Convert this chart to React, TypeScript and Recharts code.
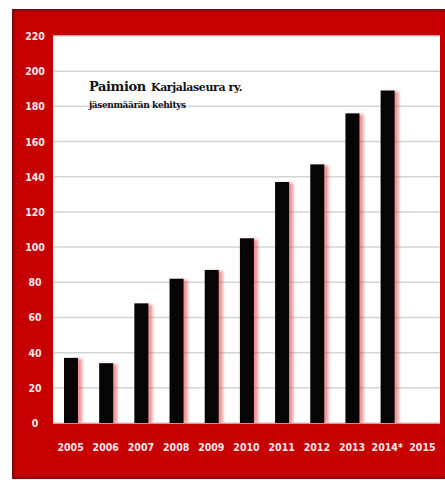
import React from 'react';
import { BarChart, Bar, XAxis, YAxis, CartesianGrid } from 'recharts';

const years = ['2005', '2006', '2007', '2008', '2009', '2010', '2011', '2012', '2013', '2014*', '2015'];
const members = [37, 34, 68, 82, 87, 105, 137, 147, 176, 189, null];
const yTicks = [0, 20, 40, 60, 80, 100, 120, 140, 160, 180, 200, 220];

const data = years.map((year, i) => ({ year, members: members[i] }));

const labelFont = '"DejaVu Sans Condensed", "DejaVu Sans", sans-serif';

const ShadowBar = (props: any) => {
  const { x, y, width, height } = props;
  if (!height || height <= 0) return null;
  return (
    <g>
      <rect x={x + 2} y={y + 1} width={width + 2} height={height - 1} fill="#e23a3a" opacity={0.55} filter="url(#soft)" />
      <rect x={x} y={y} width={width} height={height} fill="#050505" />
    </g>
  );
};

const YTick = ({ y, payload }: any) => (
  <text x={23} y={y} dy={4} textAnchor="middle" fill="#fde8e8" fontSize={10.5} fontWeight="bold" fontFamily={labelFont}>
    {payload.value}
  </text>
);

const XTick = ({ x, y, payload }: any) => (
  <text x={x} y={y} dy={14} textAnchor="middle" fill="#fde8e8" fontSize={10.5} fontWeight="bold" fontFamily={labelFont}>
    {payload.value}
  </text>
);

export default function App() {
  return (
    <div
      style={{
        position: 'absolute',
        left: 12,
        top: 9,
        width: 433,
        height: 470,
        background: '#c60000',
        boxShadow: 'inset 2px 2px 2px #7a0a0a, inset 0 -2px 2px #8a0a0a',
      }}
    >
      <BarChart width={433} height={470} data={data} margin={{ top: 27, right: 5, bottom: 26, left: 0 }} barSize={14}>
        <defs>
          <filter id="soft" x="-50%" y="-10%" width="200%" height="120%">
            <feGaussianBlur stdDeviation="1.5" />
          </filter>
        </defs>
        <CartesianGrid vertical={false} fill="#ffffff" stroke="#d4d4d4" strokeWidth={1.5} />
        <YAxis
          width={41}
          domain={[0, 220]}
          ticks={yTicks}
          interval={0}
          axisLine={false}
          tickLine={false}
          tick={<YTick />}
        />
        <XAxis dataKey="year" height={30} axisLine={false} tickLine={false} interval={0} tick={<XTick />} tickMargin={8} />
        <Bar dataKey="members" shape={<ShadowBar />} isAnimationActive={false} />
      </BarChart>
      <div
        style={{
          position: 'absolute',
          left: 77,
          top: 69,
          fontFamily: '"DejaVu Serif", "Liberation Serif", serif',
          fontWeight: 'bold',
          color: '#111',
          lineHeight: 1,
          letterSpacing: -0.4,
        }}
      >
        <div style={{ whiteSpace: 'nowrap' }}>
          <span style={{ fontSize: 13 }}>Paimion</span>{' '}
          <span style={{ fontSize: 11 }}>Karjalaseura ry.</span>
        </div>
        <div style={{ fontSize: 9, marginTop: 7, whiteSpace: 'nowrap' }}>jäsenmäärän kehitys</div>
      </div>
    </div>
  );
}
